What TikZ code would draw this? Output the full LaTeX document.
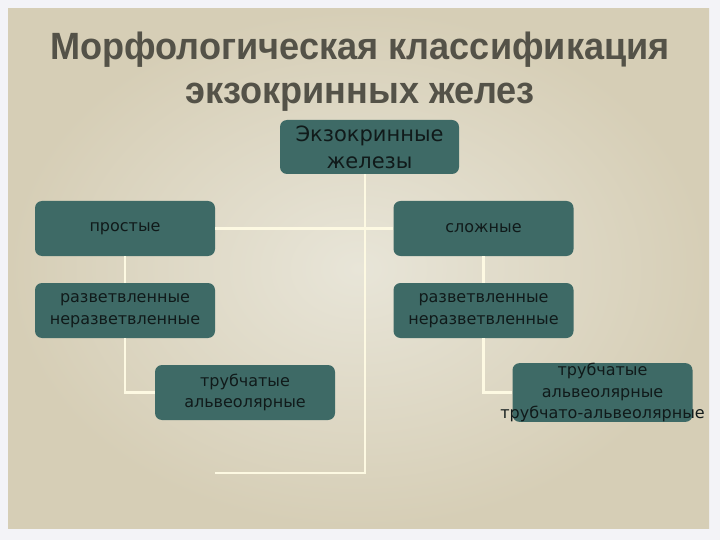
\documentclass[tikz,border=0pt]{standalone}
\usepackage{fontspec}
\setmainfont{DejaVu Sans}
\newfontfamily\titlefont[FakeStretch=0.95]{Liberation Sans}
\usepackage{xcolor}
\usetikzlibrary{positioning}

\definecolor{pageback}{RGB}{243,243,247}
\definecolor{paperdark}{RGB}{214,206,182}
\definecolor{paperlight}{RGB}{232,229,216}
\definecolor{boxteal}{RGB}{62,106,102}
\definecolor{boxtext}{RGB}{16,26,26}
\definecolor{titlegray}{RGB}{84,82,72}
\definecolor{linkcream}{RGB}{253,249,226}

\begin{document}
\begin{tikzpicture}[
    x=1pt,y=-1pt,
    box/.style={rounded corners=7pt,fill=boxteal,text width=180pt,minimum height=55pt,
      inner sep=0pt,align=center,text=boxtext,font=\fontsize{16}{21.5}\selectfont},
    link/.style={draw=linkcream,line width=2.2pt}
  ]
    \fill[pageback] (0,0) rectangle (720,540);
    \shade[inner color=paperlight,outer color=paperdark] (8,9) rectangle (709,528);

    \node[font=\titlefont\bfseries\fontsize{38}{44}\selectfont,text=titlegray,align=center] (title) at (360,72)
      {Морфологическая классификация\\экзокринных желез};

    \node[box,text width=179pt,minimum height=54pt,font=\fontsize{21}{27}\selectfont] (root) at (369.5,147) {Экзокринные\\железы};
    \node[box] (simple) at (125,228.5) {простые};
    \node[box] (complex) at (483.5,228.5) {сложные};
    \node[box] (simplebr) at (125,310.5) {разветвленные\\неразветвленные};
    \node[box] (complexbr) at (483.5,310.5) {разветвленные\\неразветвленные};
    \node[box] (simpletube) at (245,392.5) {трубчатые\\альвеолярные};
    \node[box] (complextube) at (602.5,392.5)
      {трубчатые\\альвеолярные\\\makebox[\linewidth][c]{трубчато-альвеолярные}};
    \coordinate (corner) at (365,473);
    \coordinate (tail) at (215,473);

    % connectors
    \draw[link] (root.south -| corner) -- (corner) -- (tail);
    \draw[link] (simple.east) -- (complex.west);
    \draw[link] (simple) -- (simplebr);
    \draw[link] (complex) -- (complexbr);
    \draw[link] (simplebr.south) |- (simpletube.west);
    \draw[link] (complexbr.south) |- (complextube.west);
\end{tikzpicture}
\end{document}
